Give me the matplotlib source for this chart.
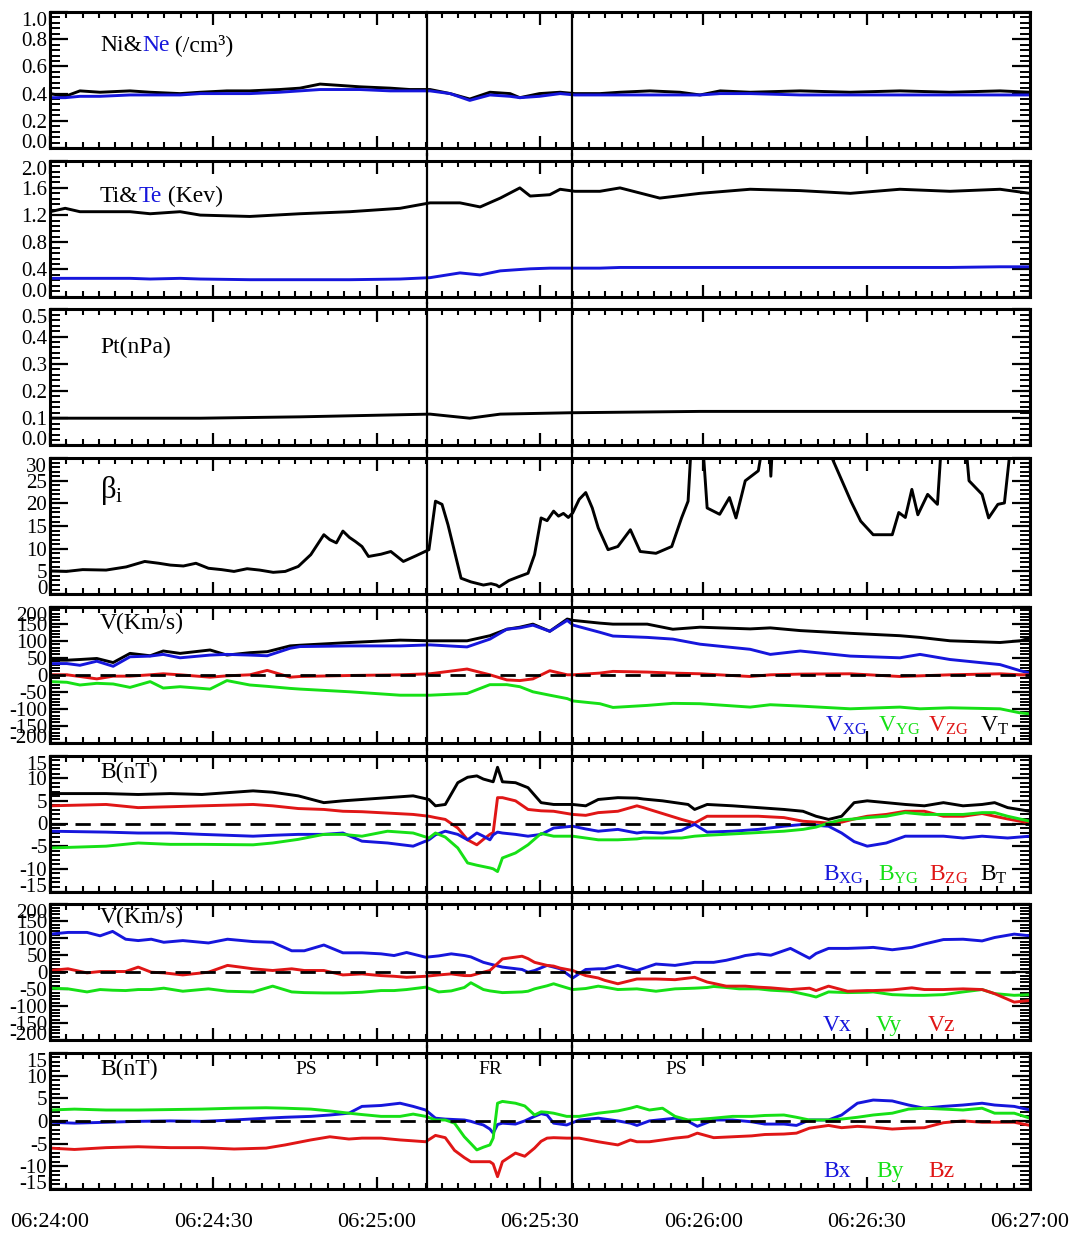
import matplotlib
matplotlib.use('Agg')
import matplotlib.pyplot as plt
from matplotlib.ticker import MultipleLocator, AutoMinorLocator

plt.rcParams['font.family'] = ['Liberation Serif', 'DejaVu Serif']
plt.rcParams['mathtext.fontset'] = 'custom'
plt.rcParams['mathtext.rm'] = 'Liberation Serif'
plt.rcParams['mathtext.it'] = 'Liberation Serif:italic'

BLUE = '#1616dc'
GREEN = '#16e016'
RED = '#e01616'

# ---------------- data (time in seconds after 06:24:00) ----------------
x_tick_labels = ['06:24:00', '06:24:30', '06:25:00', '06:25:30', '06:26:00', '06:26:30', '06:27:00']
boundary_times = [69.3, 95.8]

# Panel 1: densities
t_n = [0, 2.8, 5.5, 9.2, 14.7, 18.4, 23.9, 27.6, 32.5, 36.7, 42.2, 45.9, 49.6, 53.3, 56.9, 62.5,
       66.1, 69.8, 73.5, 77.1, 80.8, 84.5, 86.3, 89.9, 93.7, 96.4, 101.0, 104.7, 110.2, 115.7,
       119.4, 123.1, 128.6, 137.8, 147.0, 156.1, 165.3, 174.5, 180]
ni = [0.40, 0.38, 0.42, 0.41, 0.42, 0.41, 0.40, 0.41, 0.42, 0.42, 0.43, 0.44, 0.47, 0.46, 0.45, 0.44,
      0.43, 0.43, 0.40, 0.36, 0.41, 0.40, 0.37, 0.40, 0.41, 0.40, 0.40, 0.41, 0.42, 0.41,
      0.39, 0.42, 0.41, 0.42, 0.41, 0.42, 0.41, 0.42, 0.41]
ne = [0.37, 0.37, 0.38, 0.38, 0.39, 0.39, 0.39, 0.40, 0.40, 0.40, 0.41, 0.42, 0.43, 0.43, 0.43, 0.42,
      0.42, 0.42, 0.40, 0.35, 0.39, 0.38, 0.37, 0.38, 0.40, 0.39, 0.39, 0.39, 0.39, 0.39,
      0.39, 0.40, 0.40, 0.39, 0.39, 0.39, 0.39, 0.39, 0.39]

# Panel 2: temperatures
t_T = [0, 2.8, 5.5, 14.7, 18.4, 23.9, 27.6, 36.7, 45.9, 55.1, 64.3, 69.8, 75.3, 79.0, 82.7, 86.3,
       88.2, 91.8, 93.7, 96.4, 101.0, 104.7, 112.0, 119.4, 128.6, 137.8, 147.0, 156.1, 165.3, 174.5, 180]
ti = [1.25, 1.30, 1.25, 1.25, 1.22, 1.25, 1.20, 1.18, 1.22, 1.25, 1.30, 1.38, 1.38, 1.32, 1.45, 1.60,
      1.48, 1.50, 1.58, 1.55, 1.55, 1.60, 1.45, 1.52, 1.58, 1.56, 1.52, 1.58, 1.55, 1.58, 1.52]
te = [0.27, 0.27, 0.27, 0.27, 0.26, 0.27, 0.26, 0.25, 0.25, 0.25, 0.26, 0.28, 0.35, 0.32, 0.38, 0.40,
      0.41, 0.42, 0.42, 0.42, 0.42, 0.43, 0.43, 0.43, 0.43, 0.43, 0.43, 0.43, 0.43, 0.44, 0.44]

# Panel 3: total pressure
t_p = [0, 27.6, 45.9, 69.8, 77.1, 82.7, 95.5, 119.4, 180]
pt = [0.10, 0.10, 0.105, 0.115, 0.10, 0.115, 0.12, 0.125, 0.125]

# Panel 4: ion beta (values above 30 run off the top of the axis)
t_beta = [0, 3, 6, 10.3, 14, 17.4, 20, 22.1, 24.5, 26.8, 29.1, 31.5, 33.8, 36.2, 38.5, 41, 43.2,
          45.6, 47.9, 50.3, 51.4, 52.6, 53.8, 55, 56.1, 57.3, 58.5, 60.8, 62.6, 64.9, 67.3, 69.6,
          70.8, 72.0, 73.1, 74.3, 75.5, 77.3, 79.6, 81, 82.0, 82.5, 84.3, 86, 87.8, 89.0, 90.2,
          91.3, 92.5, 93.4, 94.3, 95.2, 96.0, 97.2, 98.4, 99.6, 100.7, 102.5, 104.3, 106.6, 108.4,
          111.3, 114.2, 116.0, 117.2, 118.1, 119.5, 120.7, 123.0, 124.8, 126.0, 127.7, 130.1,
          131.9, 132.4, 133.0, 140, 147.1, 148.9, 151.2, 154.7, 155.9, 157.1, 158.3, 159.4, 161.2,
          163.0, 164.1, 167.7, 168.8, 171.2, 172.4, 174.1, 175.3, 177.1, 180]
beta_i = [5.1, 5.0, 5.4, 5.3, 6.0, 7.2, 6.8, 6.4, 6.2, 6.8, 5.7, 5.4, 5.0, 5.6, 5.3, 4.8, 5.0,
          6.1, 8.7, 13.1, 12.0, 11.3, 13.9, 12.5, 11.6, 10.5, 8.3, 8.8, 9.4, 7.2, 8.5, 9.8,
          20.5, 19.8, 15.3, 9.4, 3.5, 2.7, 2.0, 2.3, 2.0, 1.6, 3.0, 3.8, 4.6, 8.7, 16.8,
          16.2, 18.3, 17.2, 17.8, 16.9, 17.9, 20.9, 22.4, 19.0, 14.6, 9.8, 10.5, 14.2, 9.4,
          9.0, 10.5, 16.8, 20.5, 40, 40, 19.0, 17.6, 21.3, 16.8, 25.0, 27.2,
          40, 26.0, 40, 40, 20.5, 16.1, 13.1, 13.1, 18.0, 16.9, 23.1, 17.5, 22.0,
          19.8, 40, 40, 25.0, 22.0, 16.8, 19.8, 20.1, 40, 40]

# Panel 5: velocity (GSM)
t_vg = [0, 3.1, 5.5, 8.6, 11.6, 14.7, 18.4, 20.8, 23.9, 29.4, 32.5, 36.7, 39.9, 44.1, 45.9, 55.1,
        64.3, 69.8, 76.6, 80.8, 83.9, 86.3, 88.7, 91.8, 95.0, 96.1, 101.0, 103.4, 109.7, 114.4,
        119.4, 128.6, 132.3, 137.8, 147.0, 156.1, 159.8, 165.3, 174.5, 178.2, 180]
vxg = [33, 33, 28, 40, 25, 53, 55, 60, 50, 58, 60, 58, 56, 78, 83, 85,
       85, 88, 82, 105, 134, 138, 146, 128, 160, 146, 125, 114, 110, 105,
       90, 75, 60, 70, 55, 50, 60, 45, 30, 12, 5]
vyg = [-20, -22, -30, -25, -27, -37, -20, -39, -35, -42, -17, -30, -34, -40, -42, -50,
       -60, -60, -55, -29, -29, -35, -50, -60, -70, -77, -85, -96, -90, -84,
       -85, -95, -88, -92, -100, -95, -100, -97, -100, -112, -115]
vzg = [0, 0, -5, -12, -4, -4, 0, 3, 0, -7, -3, 0, 13, -7, -5, -2,
       0, 3, 17, 0, -15, -17, -12, 12, 0, 0, 5, 10, 8, 5,
       3, -5, 0, 2, 3, -5, -3, 0, 3, 0, 0]
vt = [43, 43, 45, 48, 36, 63, 56, 70, 63, 73, 58, 65, 68, 85, 87, 95,
      102, 100, 100, 115, 134, 140, 149, 128, 164, 160, 152, 149, 149, 134,
      140, 135, 138, 130, 122, 115, 110, 100, 95, 100, 108]

# Panel 6: magnetic field (GSM)
t_bg = [0.0, 10.3, 16.2, 22.1, 27.9, 37.3, 40.9, 45.6, 50.3, 53.8, 57.3, 62.0, 66.7, 69.6, 70.8,
        72.6, 74.9, 76.7, 78.4, 79.6, 80.8, 81.4, 82.2, 83.1, 85.5, 87.8, 90.2, 92.5, 96.0, 98.4,
        100.7, 104.3, 107.8, 109.0, 112.5, 116.0, 117.2, 118.4, 120.7, 125.4, 130.1, 134.8, 138.3,
        140.7, 143.0, 145.4, 147.7, 150.1, 153.6, 157.1, 160.6, 164.1, 167.7, 171.2, 173.5, 175.9, 180.0]
bt = [6.6, 6.6, 6.4, 6.6, 6.4, 7.2, 6.9, 6.1, 4.6, 5.0, 5.3, 5.7, 6.1, 5.3, 3.9,
      4.2, 9.0, 10.2, 10.5, 9.8, 9.4, 9.2, 12.4, 9.2, 9.0, 7.9, 4.6, 4.2, 4.2, 3.9,
      5.3, 5.7, 5.6, 5.4, 5.0, 4.4, 4.2, 3.1, 4.2, 3.9, 3.5, 3.1, 2.7,
      1.6, 0.9, 1.6, 4.6, 5.0, 4.6, 4.2, 3.9, 4.6, 3.9, 4.2, 4.6, 3.5, 2.7]
bzg = [3.9, 4.2, 3.5, 3.7, 3.9, 4.2, 3.9, 3.3, 3.1, 2.7, 2.6, 2.3, 2.0, 1.6, 1.3,
       0.9, -1.0, -3.6, -4.7, -3.5, -2.4, -2.0, 5.7, 5.7, 5.0, 3.1, 2.8, 2.7, 2.0, 1.8,
       2.4, 2.7, 3.9, 3.5, 2.2, 0.9, 0.5, 0.1, 1.6, 1.6, 1.6, 1.3, 0.5,
       0.3, 0.1, 0.3, 1.0, 1.6, 2.0, 2.7, 2.7, 1.6, 1.6, 2.2, 1.6, 1.0, 0.1]
bxg = [-1.7, -1.9, -2.1, -2.1, -2.4, -2.8, -2.6, -2.4, -2.4, -2.1, -3.9, -4.3, -5.0, -3.6, -2.5,
       -1.7, -2.4, -3.6, -2.1, -2.8, -3.6, -2.5, -1.9, -2.1, -2.4, -2.8, -2.4, -1.0, -0.6, -1.2,
       -1.7, -1.3, -2.1, -1.9, -2.1, -1.5, -0.8, -0.2, -1.9, -1.7, -1.3, -0.6, -0.2,
       -0.4, -0.6, -2.1, -4.0, -5.0, -4.3, -2.8, -2.8, -2.8, -3.2, -2.8, -3.0, -3.2, -2.8]
byg = [-5.4, -5.0, -4.3, -4.6, -4.6, -4.7, -4.3, -3.5, -2.4, -2.4, -2.8, -1.7, -2.1, -3.2, -2.1,
       -3.0, -5.4, -8.7, -9.2, -9.5, -9.8, -10.0, -10.6, -7.6, -6.5, -4.7, -2.2, -2.8, -2.8, -3.2,
       -3.6, -3.6, -3.4, -3.2, -3.2, -3.2, -3.0, -2.8, -2.6, -2.3, -2.0, -1.7, -1.3,
       -0.8, 0.1, 0.8, 1.0, 1.3, 1.6, 2.4, 2.0, 2.0, 2.0, 2.4, 2.4, 1.6, 0.5]

# Panel 7: velocity (second frame)
t_v = [0.0, 3.3, 6.8, 9.2, 11.5, 13.9, 16.2, 18.6, 20.9, 24.4, 29.1, 32.6, 37.3, 40.9, 44.4, 46.7,
       50.3, 53.8, 57.3, 60.8, 63.2, 65.5, 69.0, 71.4, 73.7, 76.1, 77.3, 79.6, 80.8, 83.1, 86.7,
       87.8, 89.0, 91.3, 92.5, 93.7, 96.0, 98.4, 100.7, 101.9, 104.3, 107.8, 111.3, 114.8, 118.4,
       120.7, 121.9, 124.2, 126.6, 127.7, 130.1, 132.4, 136.0, 139.5, 140.7, 143.0, 146.5, 150.1,
       151.2, 154.7, 158.3, 160.6, 164.1, 167.7, 171.2, 173.5, 177.1, 180.0]
vx = [112, 117, 117, 107, 120, 97, 93, 97, 88, 93, 86, 97, 90, 88, 63, 63,
      80, 57, 57, 54, 49, 58, 44, 48, 54, 49, 45, 29, 24, 15, 8,
      0, 5, 20, 15, 10, -17, 8, 10, 10, 20, 5, 24, 20, 29,
      29, 29, 35, 44, 49, 54, 50, 70, 41, 55, 70, 70, 72,
      73, 66, 73, 83, 96, 97, 92, 102, 112, 107]
vy = [-47, -49, -58, -51, -53, -54, -51, -51, -47, -56, -49, -56, -58, -41, -58, -60,
      -61, -61, -59, -54, -54, -51, -44, -58, -55, -45, -31, -51, -55, -60, -58,
      -56, -49, -40, -34, -40, -51, -48, -41, -44, -51, -49, -56, -49, -47,
      -45, -42, -45, -49, -49, -49, -53, -56, -68, -73, -58, -60, -59,
      -58, -66, -68, -68, -66, -58, -51, -63, -68, -66]
vz = [5, 10, -2, 2, 2, 2, 15, 0, -2, -8, 0, 20, 10, 5, 10, 5,
      5, -8, -5, -10, -12, -15, -12, -8, -5, -10, -10, 0, 5, 39, 47,
      40, 29, 20, 18, 12, 5, -10, -17, -24, -34, -20, -20, -22, -15,
      -29, -33, -41, -41, -41, -44, -46, -51, -47, -54, -41, -56, -54,
      -54, -52, -46, -51, -51, -49, -51, -63, -88, -83]

# Panel 8: magnetic field (second frame)
t_b = [0.0, 4.5, 10.3, 16.2, 22.1, 27.9, 33.8, 39.7, 43.2, 47.9, 51.4, 54.9, 57.3, 60.8, 64.3,
       66.7, 69.0, 70.8, 72.6, 74.3, 76.1, 77.3, 78.4, 79.6, 80.8, 81.4, 82.2, 83.1, 85.5, 87.2,
       89.0, 90.2, 91.3, 92.5, 94.9, 97.2, 100.7, 104.3, 106.6, 107.8, 110.1, 112.5, 114.8,
       117.2, 118.9, 121.9, 125.4, 128.9, 131.3, 134.8, 137.1, 139.5, 143.0, 145.4, 148.3,
       151.2, 154.7, 157.7, 160.6, 164.1, 167.7, 171.2, 173.5, 177.1, 180.0]
bx = [-0.3, -0.5, -0.3, -0.1, 0.0, -0.1, 0.2, 0.6, 0.8, 1.0, 1.3, 1.7, 3.2, 3.4, 3.9,
      3.2, 2.4, 0.6, 0.4, 0.3, 0.2, -0.1, -0.5, -0.9, -1.8, -2.7, -0.8, -0.5, -0.7, 0.0,
      1.0, 1.6, 1.3, -0.5, -0.9, 0.2, 0.6, 0.0, -0.5, -1.0, 0.0, 0.3, 0.6,
      -0.1, -1.2, 0.2, 0.2, -0.2, -0.7, -0.7, -1.0, 0.2, 0.2, 1.3, 3.9,
      4.6, 4.4, 3.5, 2.8, 3.2, 3.5, 3.9, 3.5, 3.2, 2.4]
by = [2.4, 2.6, 2.4, 2.4, 2.5, 2.6, 2.8, 2.9, 2.8, 2.6, 2.2, 1.7, 1.4, 1.0, 1.0,
      1.5, 1.0, 0.2, 0.2, -0.5, -3.5, -5.0, -6.4, -5.8, -5.3, -3.8, 3.9, 4.3, 3.9, 3.3,
      1.3, 2.0, 1.9, 1.7, 1.0, 1.0, 1.7, 2.2, 2.8, 3.2, 2.4, 2.8, 1.0,
      0.2, 0.3, 0.6, 1.0, 1.0, 1.2, 1.3, 0.8, 0.2, 0.2, 0.4, 0.8,
      1.3, 1.7, 2.6, 2.8, 2.6, 2.4, 2.8, 1.7, 1.7, 0.6]
bz = [-6.0, -6.3, -5.9, -5.7, -5.9, -5.9, -6.2, -6.0, -5.3, -4.2, -3.5, -4.0, -3.8, -3.8, -4.2,
      -4.4, -4.6, -3.2, -3.7, -6.5, -8.1, -9.0, -9.0, -9.0, -9.0, -9.5, -12.3, -9.0, -7.1, -7.8,
      -6.0, -4.5, -3.8, -3.7, -3.8, -3.8, -4.6, -5.3, -4.2, -4.6, -4.6, -4.2, -3.8,
      -3.5, -2.7, -3.7, -3.5, -3.3, -3.0, -2.9, -2.7, -1.6, -1.0, -1.5, -1.2,
      -1.4, -1.8, -1.6, -1.5, -0.4, 0.0, -0.3, -0.3, -0.3, -1.0]

# ---------------- figure ----------------
W, H = 1075, 1233
fig = plt.figure(figsize=(W / 100, H / 100), dpi=100)

left_px, right_px = 50, 1030
panel_h = 136
axes = []
for i in range(8):
    top = 12 + i * 148.7
    ax = fig.add_axes([left_px / W, 1 - (top + panel_h) / H, (right_px - left_px) / W, panel_h / H])
    axes.append(ax)

LW = 2.1


def style(ax, ylim, ticks, labels):
    ax.set_xlim(0, 180)
    ax.set_ylim(*ylim)
    ax.xaxis.set_major_locator(MultipleLocator(30))
    ax.xaxis.set_minor_locator(MultipleLocator(3))
    ax.set_yticks(ticks)
    ax.set_yticklabels(labels)
    ax.yaxis.set_minor_locator(AutoMinorLocator(5))
    ax.tick_params(axis='both', which='both', direction='in', top=True, right=True,
                   labelbottom=False, color='k')
    ax.tick_params(axis='x', which='major', length=9, width=1.6)
    ax.tick_params(axis='x', which='minor', length=4.5, width=1.5)
    ax.tick_params(axis='y', which='major', length=13, width=1.6, labelsize=15, pad=2)
    ax.tick_params(axis='y', which='minor', length=7, width=1.4)
    for s in ax.spines.values():
        s.set_linewidth(2.2)
    lbls = ax.get_yticklabels()
    lbls[0].set_va('baseline')
    lbls[-1].set_va('top')


def colored_label(ax, x, y, parts, size=17):
    prev = None
    for txt, col in parts:
        if prev is None:
            prev = ax.text(x, y, txt, color=col, fontsize=size, transform=ax.transAxes,
                           ha='left', va='center')
        else:
            prev = ax.annotate(txt, xy=(1, 0), xycoords=prev, color=col, fontsize=size,
                               ha='left', va='bottom')


def legend_row(ax, y, items, xs, size=17):
    for (txt, col), x in zip(items, xs):
        ax.text(x, y, txt, color=col, fontsize=size, transform=ax.transAxes,
                ha='left', va='baseline')


def zero_line(ax):
    ax.axhline(0, color='k', lw=2.0, linestyle=(0, (5.5, 3.5)), zorder=5)


# Panel 1
ax = axes[0]
ax.plot(t_n, ni, color='k', lw=LW)
ax.plot(t_n, ne, color=BLUE, lw=LW)
style(ax, (0, 1.0), [0, 0.2, 0.4, 0.6, 0.8, 1.0], ['0.0', '0.2', '0.4', '0.6', '0.8', '1.0'])
colored_label(ax, 0.051, 0.757, [('Ni&', 'k'), ('Ne', BLUE), (' (/cm³)', 'k')])

# Panel 2
ax = axes[1]
ax.plot(t_T, ti, color='k', lw=LW)
ax.plot(t_T, te, color=BLUE, lw=LW)
style(ax, (0, 2.0), [0, 0.4, 0.8, 1.2, 1.6, 2.0], ['0.0', '0.4', '0.8', '1.2', '1.6', '2.0'])
colored_label(ax, 0.051, 0.735, [('Ti&', 'k'), ('Te', BLUE), (' (Kev)', 'k')])

# Panel 3
ax = axes[2]
ax.plot(t_p, pt, color='k', lw=LW)
style(ax, (0, 0.5), [0, 0.1, 0.2, 0.3, 0.4, 0.5], ['0.0', '0.1', '0.2', '0.3', '0.4', '0.5'])
ax.text(0.051, 0.72, 'Pt(nPa)', fontsize=17, transform=ax.transAxes, va='center')

# Panel 4
ax = axes[3]
ax.plot(t_beta, beta_i, color='k', lw=LW)
style(ax, (0, 30), [0, 5, 10, 15, 20, 25, 30], ['0', '5', '10', '15', '20', '25', '30'])
ax.text(0.051, 0.76, r'$\mathregular{\beta_i}$', fontsize=22, transform=ax.transAxes, va='center')

vlabels = ['-200', '-150', '-100', '-50', '0', '50', '100', '150', '200']
vticks = [-200, -150, -100, -50, 0, 50, 100, 150, 200]
blabels = ['-15', '-10', '-5', '0', '5', '10', '15']
bticks = [-15, -10, -5, 0, 5, 10, 15]

# Panel 5
ax = axes[4]
ax.plot(t_vg, vt, color='k', lw=LW)
ax.plot(t_vg, vxg, color=BLUE, lw=LW)
ax.plot(t_vg, vyg, color=GREEN, lw=LW)
ax.plot(t_vg, vzg, color=RED, lw=LW)
zero_line(ax)
style(ax, (-200, 200), vticks, vlabels)
ax.text(0.051, 0.875, 'V(Km/s)', fontsize=17, transform=ax.transAxes, va='center')
legend_row(ax, 0.08, [(r'$\mathregular{V_{XG}}$', BLUE), (r'$\mathregular{V_{YG}}$', GREEN),
                      (r'$\mathregular{V_{ZG}}$', RED), (r'$\mathregular{V_{T}}$', 'k')],
           [0.791, 0.845, 0.896, 0.949])

# Panel 6
ax = axes[5]
ax.plot(t_bg, bt, color='k', lw=LW)
ax.plot(t_bg, bzg, color=RED, lw=LW)
ax.plot(t_bg, bxg, color=BLUE, lw=LW)
ax.plot(t_bg, byg, color=GREEN, lw=LW)
zero_line(ax)
style(ax, (-15, 15), bticks, blabels)
ax.text(0.051, 0.875, 'B(nT)', fontsize=17, transform=ax.transAxes, va='center')
legend_row(ax, 0.08, [(r'$\mathregular{B_{XG}}$', BLUE), (r'$\mathregular{B_{YG}}$', GREEN),
                      (r'$\mathregular{B_{ZG}}$', RED), (r'$\mathregular{B_{T}}$', 'k')],
           [0.789, 0.845, 0.897, 0.949])

# Panel 7
ax = axes[6]
ax.plot(t_v, vx, color=BLUE, lw=LW)
ax.plot(t_v, vy, color=GREEN, lw=LW)
ax.plot(t_v, vz, color=RED, lw=LW)
zero_line(ax)
style(ax, (-200, 200), vticks, vlabels)
ax.text(0.051, 0.9, 'V(Km/s)', fontsize=17, transform=ax.transAxes, va='center')
legend_row(ax, 0.07, [('Vx', BLUE), ('Vy', GREEN), ('Vz', RED)], [0.789, 0.843, 0.896])

# Panel 8
ax = axes[7]
ax.plot(t_b, bx, color=BLUE, lw=LW)
ax.plot(t_b, by, color=GREEN, lw=LW)
ax.plot(t_b, bz, color=RED, lw=LW)
zero_line(ax)
style(ax, (-15, 15), bticks, blabels)
ax.text(0.051, 0.875, 'B(nT)', fontsize=17, transform=ax.transAxes, va='center')
for name, xa in [('PS', 0.262), ('FR', 0.449), ('PS', 0.639)]:
    ax.text(xa, 0.875, name, fontsize=14, transform=ax.transAxes, va='center', ha='center')
legend_row(ax, 0.09, [('Bx', BLUE), ('By', GREEN), ('Bz', RED)], [0.789, 0.843, 0.896])
ax.set_xticks([0, 30, 60, 90, 120, 150, 180])
ax.set_xticklabels(x_tick_labels)
ax.tick_params(axis='x', which='major', labelbottom=True, labelsize=16, pad=17)

# Boundary lines through all panels
for i, ax in enumerate(axes):
    lo = 0 if i == len(axes) - 1 else -0.05
    hi = 1 if i == 0 else 1.05
    for tb in boundary_times:
        ax.axvline(tb, ymin=lo, ymax=hi, color='k', lw=1.6, clip_on=False, zorder=6)

fig.savefig('out.png', dpi=100, facecolor='white')
